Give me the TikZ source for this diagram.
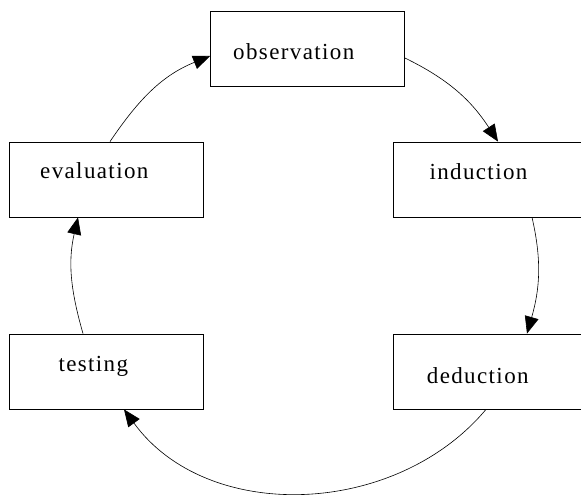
\documentclass[tikz,border=0pt]{standalone}
\usepackage{fontspec}
\usetikzlibrary{arrows.meta}
\newfontfamily\boxfont[LetterSpace=6]{Liberation Serif}

\tikzset{
  box/.style={draw, line width=0.8pt, minimum width=194pt, minimum height=75pt, inner sep=0pt},
  word/.style={anchor=base west, inner sep=0pt, font=\boxfont\fontsize{23}{27}\selectfont},
  cycle/.style={line width=0.6pt, -{Triangle[length=17pt,width=14pt]}}
}

\begin{document}
\begin{tikzpicture}[x=1pt,y=1pt]
\useasboundingbox (0,0) rectangle (581,499);
\clip (0,0) rectangle (581,499);

\node[box] (obs) at (307.5,450.5) {};
\node[box] (ind) at (490,319.5) {};
\node[box] (ded) at (490,127.5) {};
\node[box] (test) at (106,127.5) {};
\node[box] (eval) at (106,319.5) {};

\node[word] at (233,439.7) {observation};
\node[word] at (429.3,319.7) {induction};
\node[word] at (426.7,115.7) {deduction};
\node[word] at (58.3,127.3) {testing};
\node[word] at (40,320.7) {evaluation};

\draw[cycle] ([yshift=-9.5pt]obs.east) to[out=-26,in=123] ([xshift=8pt]ind.north);
\draw[cycle] ([xshift=42pt]ind.south) to[out=-77,in=74] ([xshift=37pt]ded.north);
\draw[cycle] ([xshift=-4pt]ded.south) to[out=-130,in=-54] ([xshift=18pt]test.south);
\draw[cycle] ([xshift=-23pt]test.north) to[out=106,in=-103] ([xshift=-28pt]eval.south);
\draw[cycle] ([xshift=4pt]eval.north) to[out=56,in=202] ([yshift=-7.5pt]obs.west);
\end{tikzpicture}
\end{document}
